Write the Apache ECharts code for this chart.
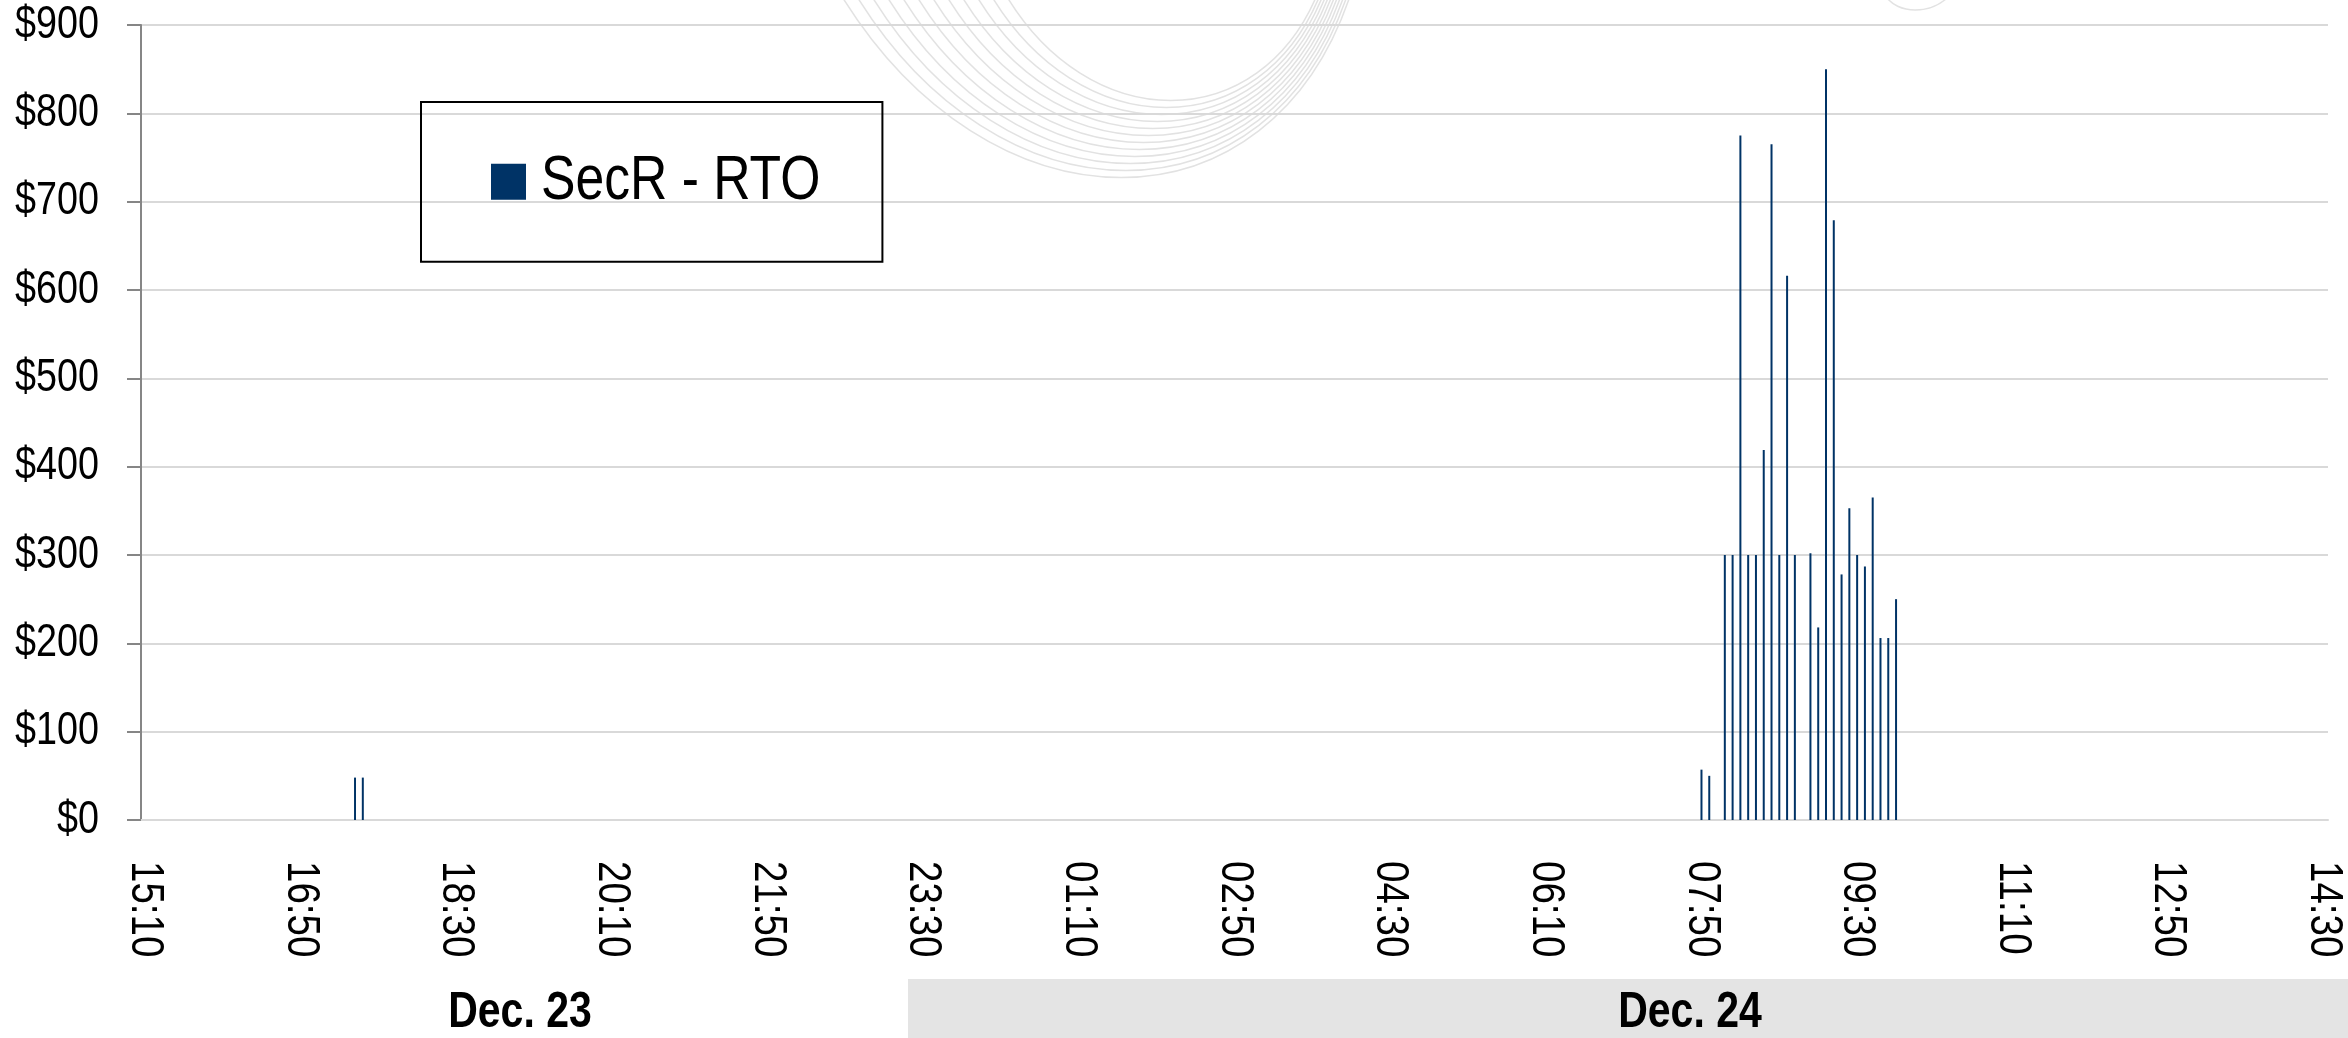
<!DOCTYPE html>
<html>
<head>
<meta charset="utf-8">
<script src="https://cdn.jsdelivr.net/npm/echarts@6/dist/echarts.min.js"></script>
<style>
html,body{margin:0;padding:0;background:#fff;}
#chart{width:2348px;height:1038px;}
</style>
</head>
<body>
<div id="chart"></div>
<script>
// ---- data ----
const seriesName = 'SecR - RTO';
const axisStart = '15:10';
const axisEnd = '14:30';
const stepMinutes = 5;
const labelEvery = 20;
const yMin = 0, yMax = 900, yStep = 100;
const barTimes = ['17:25','17:30','07:50','07:55','08:05','08:10','08:15','08:20','08:25','08:30','08:35','08:40','08:45','08:50','09:00','09:05','09:10','09:15','09:20','09:25','09:30','09:35','09:40','09:45','09:50','09:55'];
const barValues = [48,48,57,50,300,300,775,300,300,419,765,300,616,300,302,218,850,679,278,353,300,287,365,206,206,250];
const dayLabels = ['Dec. 23','Dec. 24'];

// ---- Arial-Narrow-like text: condense glyphs horizontally (no narrow font installed) ----
(function(){
  const NARROW = 0.82;
  const P = CanvasRenderingContext2D.prototype;
  const fT = P.fillText, sT = P.strokeText, mT = P.measureText;
  P.fillText = function(t,x,y){ this.save(); this.translate(x,y); this.scale(NARROW,1); fT.call(this,t,0,0); this.restore(); };
  P.strokeText = function(t,x,y){ this.save(); this.translate(x,y); this.scale(NARROW,1); sT.call(this,t,0,0); this.restore(); };
  P.measureText = function(t){
    const m = mT.call(this,t);
    return {
      width: m.width*NARROW,
      actualBoundingBoxLeft: m.actualBoundingBoxLeft*NARROW,
      actualBoundingBoxRight: m.actualBoundingBoxRight*NARROW,
      actualBoundingBoxAscent: m.actualBoundingBoxAscent,
      actualBoundingBoxDescent: m.actualBoundingBoxDescent,
      fontBoundingBoxAscent: m.fontBoundingBoxAscent,
      fontBoundingBoxDescent: m.fontBoundingBoxDescent
    };
  };
})();

// ---- build categories (5-minute slots) ----
function toMin(s){const p=s.split(':');return (+p[0])*60+(+p[1]);}
function fmt(m){m=((m%1440)+1440)%1440;const h=Math.floor(m/60),mm=m%60;return (h<10?'0':'')+h+':'+(mm<10?'0':'')+mm;}
const categories=[];
{let s=toMin(axisStart),e=toMin(axisEnd);if(e<=s)e+=1440;for(let m=s;m<=e;m+=stepMinutes)categories.push(fmt(m));}
const seriesData=categories.map(()=>null);
barTimes.forEach((t,i)=>{const idx=categories.indexOf(t);if(idx>=0)seriesData[idx]=barValues[i];});

// ---- decorative watermark curves ----
const deco=[];
for(let k=0;k<12;k++){
  const x1=838+15*k,x2=1352-3*k,d=180-7*k;
  deco.push({type:'bezierCurve',silent:true,z:-10,shape:{x1:x1,y1:-10,cpx1:x1+150-6*k,cpy1:d*4/3,cpx2:x2-80+2*k,cpy2:d*4/3,x2:x2,y2:-10},style:{stroke:'#e2e2e2',lineWidth:1.5,fill:null}});
}
deco.push({type:'bezierCurve',silent:true,z:-10,shape:{x1:1885,y1:-5,cpx1:1897,cpy1:15,cpx2:1932,cpy2:15,x2:1950,y2:-5},style:{stroke:'#e2e2e2',lineWidth:1.5,fill:null}});

const FONT='"Liberation Sans",Arial,sans-serif';
const chart=echarts.init(document.getElementById('chart'));
chart.setOption({
  animation:false,
  backgroundColor:'#ffffff',
  grid:{left:141,right:20,top:25,bottom:218,containLabel:false},
  legend:{
    show:true,left:421,top:102,orient:'horizontal',
    data:[seriesName],icon:'rect',itemWidth:35,itemHeight:36,
    borderColor:'#000',borderWidth:2,padding:[54,62,54,70],
    textStyle:{fontFamily:FONT,fontSize:63,color:'#000',padding:[0,0,0,10]}
  },
  xAxis:{
    type:'category',data:categories,boundaryGap:true,
    axisLine:{show:true,lineStyle:{color:'#d9d9d9',width:2}},
    axisTick:{show:false},
    splitLine:{show:false},
    axisLabel:{interval:labelEvery-1,rotate:-90,margin:41,fontSize:47,fontFamily:FONT,color:'#000'}
  },
  yAxis:{
    type:'value',min:yMin,max:yMax,interval:yStep,
    axisLine:{show:true,lineStyle:{color:'#868686',width:2}},
    axisTick:{show:true,length:14,lineStyle:{color:'#868686',width:2}},
    splitLine:{show:true,lineStyle:{color:'#d9d9d9',width:2}},
    axisLabel:{formatter:v=>'$'+v,fontSize:46,fontFamily:FONT,color:'#000',margin:42}
  },
  graphic:[
    {type:'group',children:deco},
    {type:'rect',shape:{x:908,y:979,width:1440,height:59},style:{fill:'#e4e4e4'},z:-5},
    {type:'text',x:520,y:1013,style:{text:dayLabels[0],font:'bold 50px '+FONT,fill:'#000',textAlign:'center',textVerticalAlign:'middle'}},
    {type:'text',x:1690,y:1013,style:{text:dayLabels[1],font:'bold 50px '+FONT,fill:'#000',textAlign:'center',textVerticalAlign:'middle'}}
  ],
  series:[{
    name:seriesName,type:'bar',data:seriesData,barWidth:2,
    itemStyle:{color:'#003366'}
  }]
});
</script>
</body>
</html>
